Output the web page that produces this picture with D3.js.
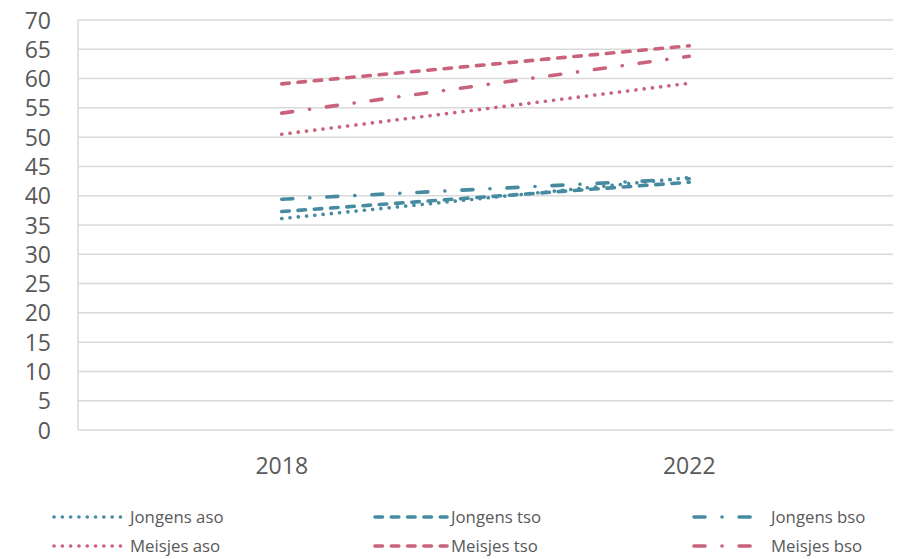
<!DOCTYPE html>
<html>
<head>
<meta charset="utf-8">
<script src="https://cdn.jsdelivr.net/npm/d3@7"></script>
<style>
  html, body { margin: 0; padding: 0; background: #fff; }
  svg { display: block; }
  text { font-family: "Open Sans", "Noto Sans", sans-serif; fill: #595959; }
</style>
</head>
<body>
<svg id="chart" width="899" height="559"></svg>
<script>
// Survey years on the x axis
const years = ["2018", "2022"];
// Percentages per group
const jongensAso = [36.1, 43.1];
const jongensTso = [37.3, 42.3];
const jongensBso = [39.4, 42.9];
const meisjesAso = [50.5, 59.2];
const meisjesTso = [59.1, 65.6];
const meisjesBso = [54.1, 63.8];
const yTicks = [0, 5, 10, 15, 20, 25, 30, 35, 40, 45, 50, 55, 60, 65, 70];

const teal = "#478ba0";
const pink = "#c9637b";
const dot = "0.1,8.2";
const dash = "7.5,8.8";
const dashDot = "11,17,0.1,17";

const series = [
  { name: "Jongens aso", values: jongensAso, color: teal, dash: dot },
  { name: "Jongens tso", values: jongensTso, color: teal, dash: dash },
  { name: "Jongens bso", values: jongensBso, color: teal, dash: dashDot },
  { name: "Meisjes aso", values: meisjesAso, color: pink, dash: dot },
  { name: "Meisjes tso", values: meisjesTso, color: pink, dash: dash },
  { name: "Meisjes bso", values: meisjesBso, color: pink, dash: dashDot }
];

const svg = d3.select("#chart");
const plot = { left: 78, right: 893, top: 20, bottom: 430 };

const x = d3.scaleBand().domain(years).range([plot.left, plot.right]);
const y = d3.scaleLinear().domain([0, 70]).range([plot.bottom, plot.top]);

// Horizontal gridlines
svg.append("g")
  .selectAll("line")
  .data(yTicks)
  .join("line")
  .attr("x1", plot.left).attr("x2", plot.right)
  .attr("y1", d => y(d)).attr("y2", d => y(d))
  .attr("stroke", "#d9d9d9").attr("stroke-width", 1.5);

// Left axis line
svg.append("line")
  .attr("x1", plot.left).attr("x2", plot.left)
  .attr("y1", plot.top).attr("y2", plot.bottom)
  .attr("stroke", "#d9d9d9").attr("stroke-width", 1.5);

// Y axis labels
const yAxis = d3.axisLeft(y).tickValues(yTicks).tickSize(0).tickPadding(0);
const gy = svg.append("g").attr("transform", `translate(${plot.left - 27},0)`).call(yAxis);
gy.select(".domain").remove();
gy.selectAll("text")
  .attr("font-size", 23)
  .attr("dy", "0.35em")
  .style("font-family", "'Open Sans', sans-serif")
  .attr("fill", "#595959");

// X axis labels
const xAxis = d3.axisBottom(x).tickSize(0).tickPadding(0);
const gx = svg.append("g").attr("transform", `translate(0,${plot.bottom + 27})`).call(xAxis);
gx.select(".domain").remove();
gx.selectAll("text")
  .attr("font-size", 23)
  .attr("dy", "0.75em")
  .style("font-family", "'Open Sans', sans-serif")
  .attr("fill", "#595959");

// Series lines
const line = d3.line()
  .x((d, i) => x(years[i]) + x.bandwidth() / 2)
  .y(d => y(d));

svg.append("g")
  .selectAll("path")
  .data(series)
  .join("path")
  .attr("d", d => line(d.values))
  .attr("fill", "none")
  .attr("stroke", d => d.color)
  .attr("stroke-width", 3.6)
  .attr("stroke-linecap", "round")
  .attr("stroke-dasharray", d => d.dash);

// Legend: three columns, two rows
const legendCols = [54, 375, 694];
const legendRows = [517, 546];
const legend = svg.append("g")
  .selectAll("g")
  .data(series)
  .join("g")
  .attr("transform", (d, i) => `translate(${legendCols[i % 3]},${legendRows[Math.floor(i / 3)]})`);

legend.append("line")
  .attr("x1", 0).attr("x2", 72)
  .attr("y1", 0).attr("y2", 0)
  .attr("stroke", d => d.color)
  .attr("stroke-width", 3.6)
  .attr("stroke-linecap", "round")
  .attr("stroke-dasharray", d => d.dash);

legend.append("text")
  .attr("x", (d, i) => (i % 3 === 2 ? 77 : 76))
  .attr("y", 0)
  .attr("dy", "0.35em")
  .attr("font-size", 16.8)
  .text(d => d.name);
</script>
</body>
</html>
